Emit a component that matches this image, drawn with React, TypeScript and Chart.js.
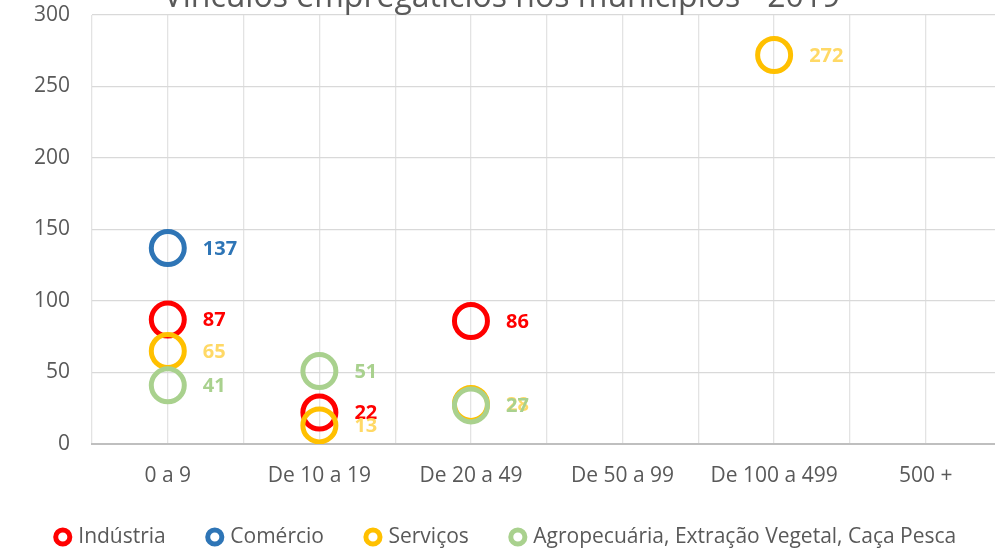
import React, { useEffect, useRef } from "react";
import { Chart, registerables } from "chart.js";

Chart.register(...registerables);

const chartTitle = "Vínculos empregatícios nos municípios - 2019";
const categories = ["0 a 9", "De 10 a 19", "De 20 a 49", "De 50 a 99", "De 100 a 499", "500 +"];
const seriesNames = ["Indústria", "Comércio", "Serviços", "Agropecuária, Extração Vegetal, Caça Pesca"];
const industria: (number | null)[] = [87, 22, 86, null, null, null];
const comercio: (number | null)[] = [137, null, null, null, null, null];
const servicos: (number | null)[] = [65, 13, 28, null, 272, null];
const agropecuaria: (number | null)[] = [41, 51, 27, null, null, null];
const yMin = 0;
const yMax = 300;
const yStep = 50;

const markerColors = ["#FF0000", "#2E75B6", "#FFC000", "#A9D18E"];
const labelColors = ["#FF0000", "#2E75B6", "#FFD966", "#A9D18E"];
const FONT = "'Open Sans', Lato, sans-serif";
const TEXT = "#595959";

const allSeries = [industria, comercio, servicos, agropecuaria];

const labelPlugin = {
  id: "pointLabels",
  afterDatasetsDraw(chart: any) {
    const ctx = chart.ctx;
    ctx.save();
    ctx.font = `bold 20px ${FONT}`;
    ctx.textBaseline = "middle";
    ctx.textAlign = "left";
    chart.data.datasets.forEach((ds: any, i: number) => {
      const meta = chart.getDatasetMeta(i);
      meta.data.forEach((el: any, j: number) => {
        const v = ds.data[j];
        if (!v) return;
        ctx.fillStyle = labelColors[i];
        ctx.fillText(String(v.y), el.x + 35, el.y + 1);
      });
    });
    ctx.restore();
  },
};

const titlePlugin = {
  id: "topTitle",
  afterDraw(chart: any) {
    const ctx = chart.ctx;
    ctx.save();
    ctx.font = `32px ${FONT}`;
    ctx.fillStyle = TEXT;
    ctx.textAlign = "center";
    ctx.textBaseline = "alphabetic";
    ctx.fillText(chartTitle, 502, 37);
    ctx.restore();
  },
};

export default function App() {
  const ref = useRef<HTMLCanvasElement | null>(null);
  useEffect(() => {
    if (!ref.current) return;
    const n = allSeries.length;
    const datasets = allSeries.map((vals, i) => ({
      label: seriesNames[i],
      order: n - 1 - i,
      data: vals
        .map((v, j) => (v === null ? null : { x: j + 1, y: v }))
        .filter((p) => p !== null),
      showLine: false,
      pointRadius: 16.5,
      pointHoverRadius: 16.5,
      pointBorderWidth: 5,
      borderWidth: 5,
      pointBorderColor: markerColors[i],
      borderColor: markerColors[i],
      pointBackgroundColor: "rgba(255,255,255,0)",
      backgroundColor: "rgba(255,255,255,0)",
      pointStyle: "circle",
    }));
    const chart = new Chart(ref.current, {
      type: "scatter",
      data: { datasets: datasets as any },
      options: {
        animation: false,
        responsive: false,
        maintainAspectRatio: false,
        layout: { padding: { top: 45, left: 0, right: 9, bottom: 12.5 } },
        plugins: {
          title: { display: false },
          tooltip: { enabled: false },
          legend: {
            position: "bottom",
            labels: {
              usePointStyle: true,
              boxWidth: 10,
              boxHeight: 10,
              padding: 44,
              color: TEXT,
              font: { family: FONT, size: 21 },
              sort: (a: any, b: any) => a.datasetIndex - b.datasetIndex,
            },
          },
        },
        scales: {
          x: {
            type: "linear",
            min: 0.5,
            max: categories.length + 0.5,
            afterFit: (s: any) => {
              s.height = 38.5;
            },
            afterBuildTicks: (s: any) => {
              const t = [];
              for (let v = 0.5; v <= categories.length + 0.5; v += 0.5) t.push({ value: v });
              s.ticks = t;
            },
            ticks: {
              padding: 19,
              color: TEXT,
              font: { family: FONT, size: 21 },
              autoSkip: false,
              maxRotation: 0,
              callback: (v: any) => {
                const k = Number(v);
                return Number.isInteger(k) ? categories[k - 1] ?? "" : "";
              },
            },
            grid: { color: "#E3E3E3", lineWidth: 1.3, drawTicks: false },
            border: { display: true, color: "#BFBFBF", width: 2 },
          },
          y: {
            min: yMin,
            max: yMax,
            afterFit: (s: any) => {
              s.width = 92;
            },
            ticks: {
              stepSize: yStep,
              padding: 22,
              color: TEXT,
              font: { family: FONT, size: 21 },
            },
            grid: { color: "#D9D9D9", lineWidth: 1.3, drawTicks: false },
            border: { display: false },
          },
        },
      },
      plugins: [labelPlugin, titlePlugin],
    });
    return () => chart.destroy();
  }, []);
  return (
    <div style={{ position: "absolute", left: 0, top: 0, width: 995, height: 550, overflow: "hidden", background: "#fff" }}>
      <canvas ref={ref} width={1023} height={600} style={{ position: "absolute", left: 0, top: -30, width: 1023, height: 600 }} />
    </div>
  );
}
